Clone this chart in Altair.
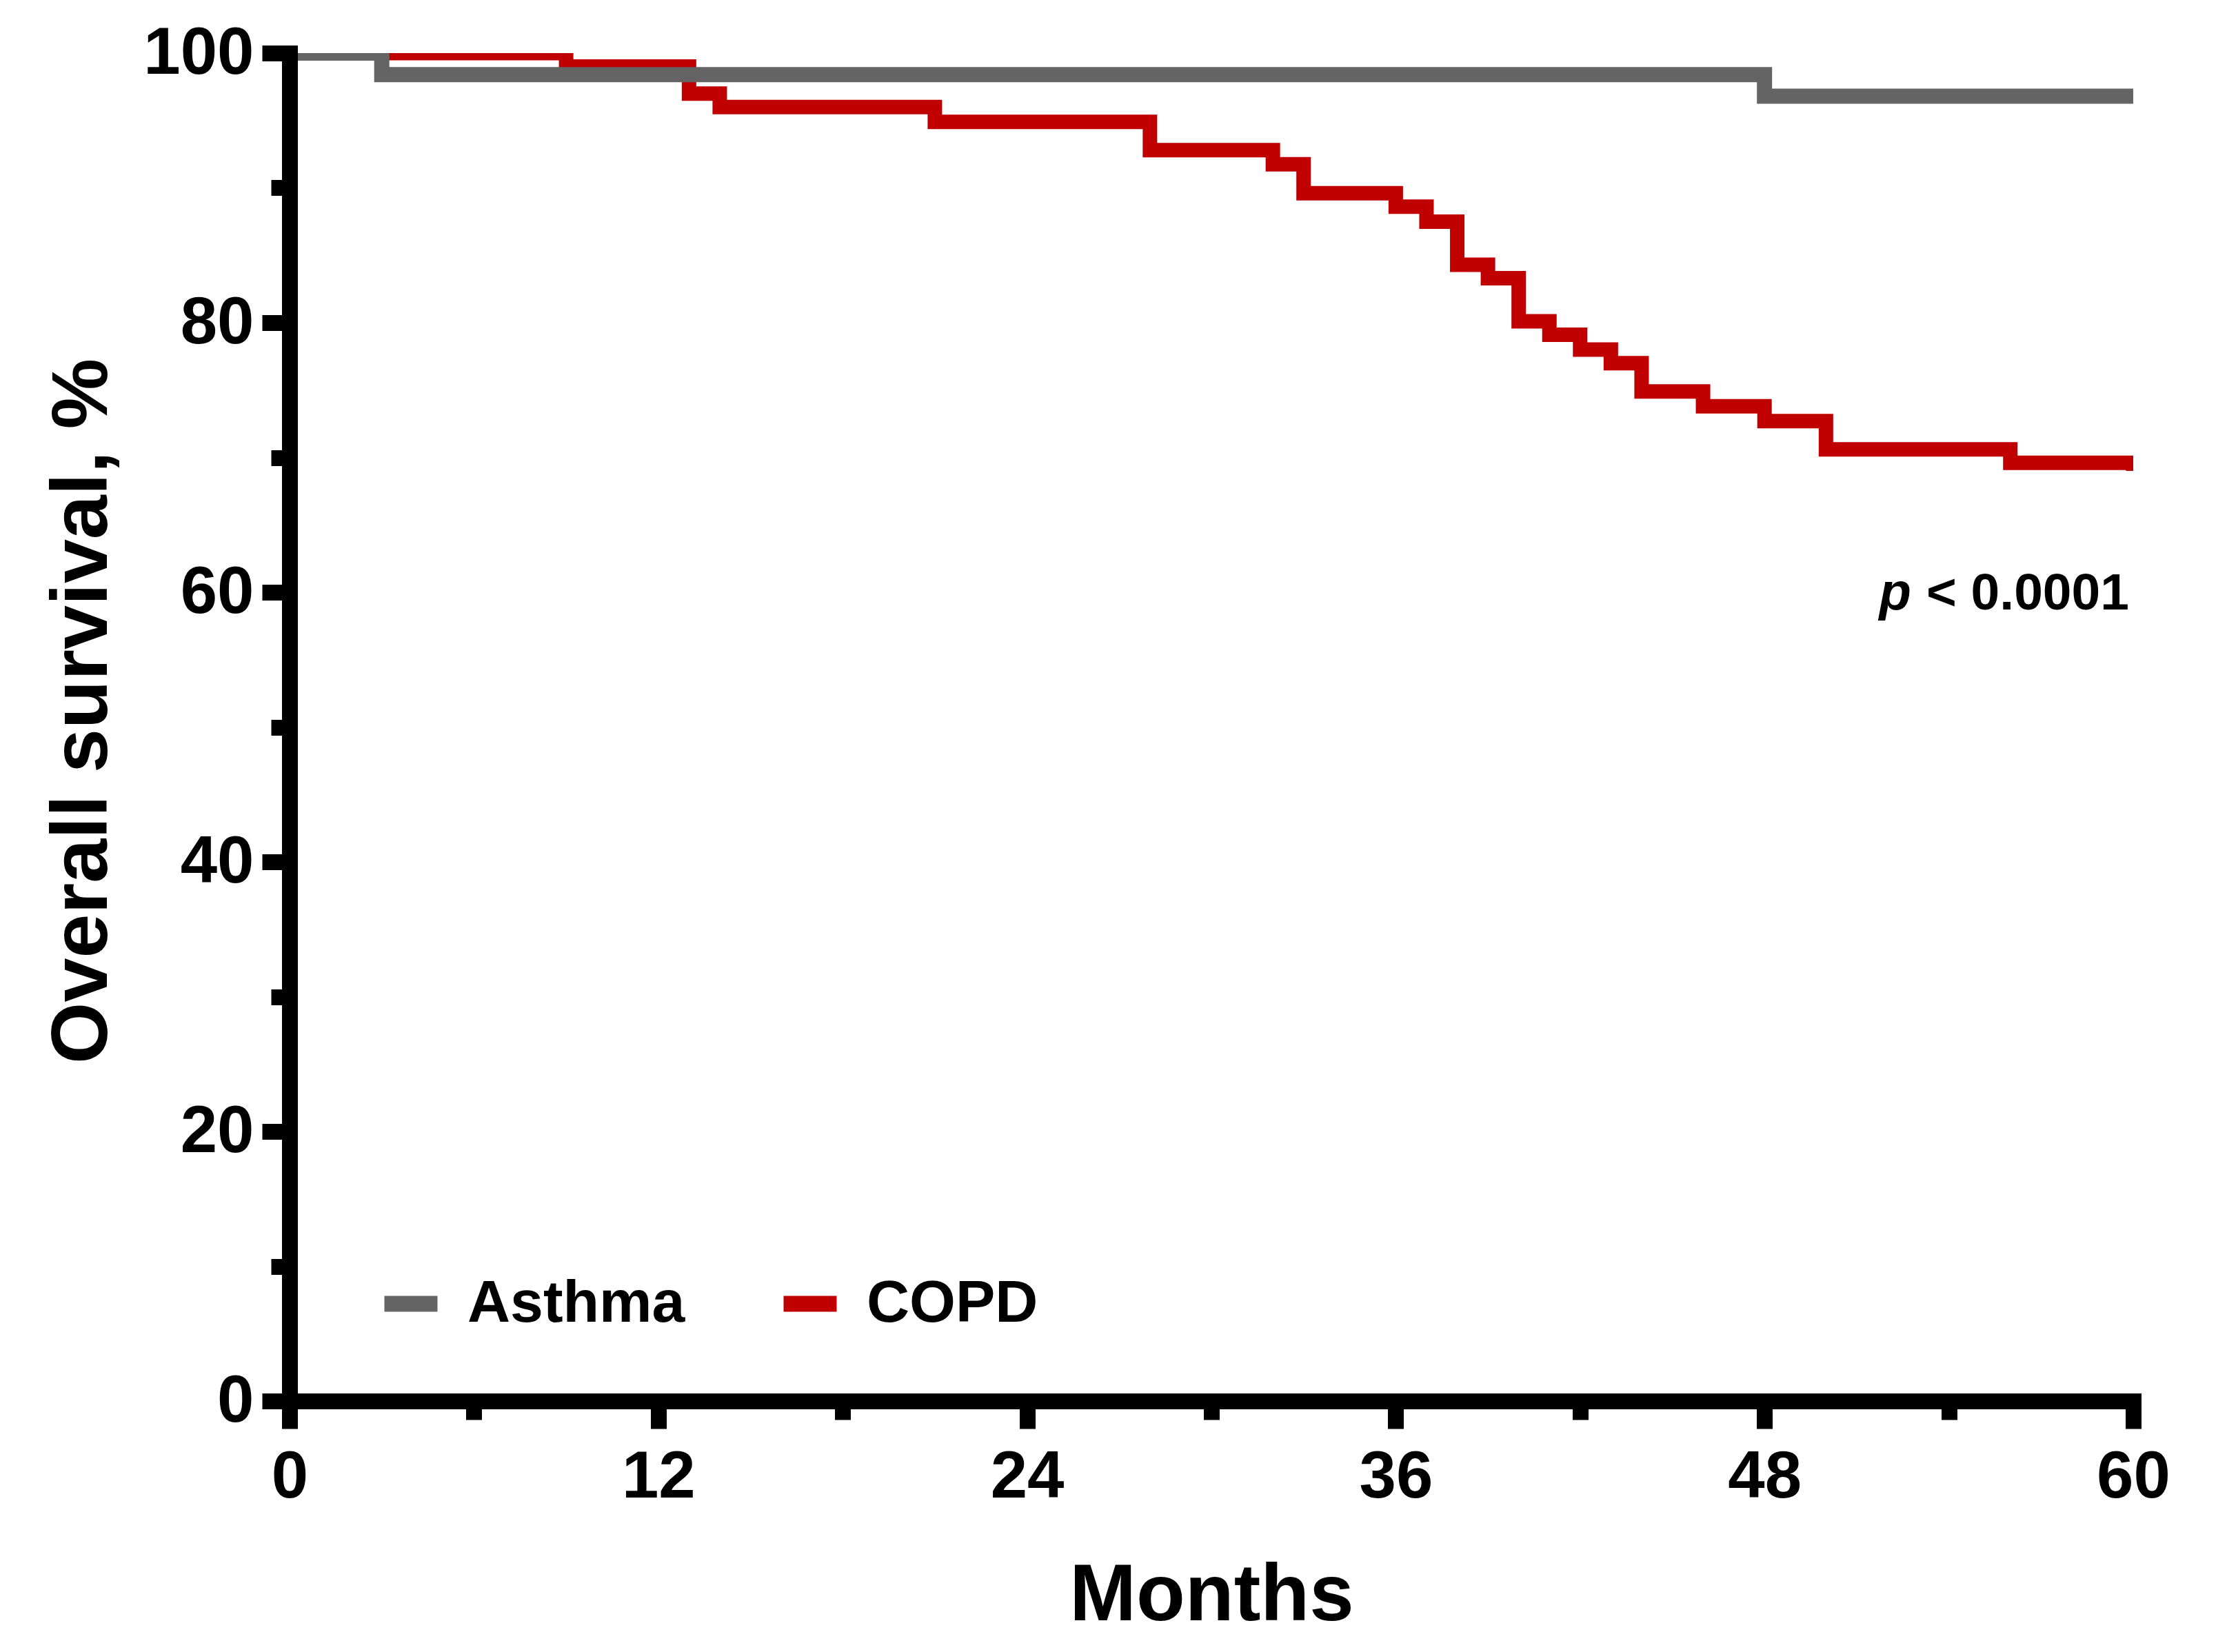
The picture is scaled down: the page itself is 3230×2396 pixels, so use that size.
import altair as alt
import pandas as pd

# ---- data ----
groups = ["Asthma", "COPD"]
group_colors = ["#646464", "#C00000"]

asthma_months = [0, 3, 48, 60]
asthma_surv = [100, 98.4, 96.8, 96.8]

copd_months = [0, 9, 13, 14, 21, 28, 32, 33, 36, 37, 38, 39, 40, 41, 42, 43, 44, 46, 48, 50, 56, 60]
copd_surv = [100, 99.0, 97.0, 96.0, 94.9, 92.8, 91.75, 89.6, 88.6, 87.5, 84.3, 83.3, 80.1, 79.1,
             78.0, 77.0, 74.9, 73.8, 72.7, 70.6, 69.6, 69.0]

x_ticks = [0, 6, 12, 18, 24, 30, 36, 42, 48, 54, 60]
y_ticks = [0, 10, 20, 30, 40, 50, 60, 70, 80, 90, 100]

p_label_x = [60]
p_label_y = [58.7]

FONT = "Liberation Sans"

asthma = pd.DataFrame({"month": asthma_months, "surv": asthma_surv, "group": "Asthma"})
copd = pd.DataFrame({"month": copd_months, "surv": copd_surv, "group": "COPD"})
ann = pd.DataFrame({"x": p_label_x, "y": p_label_y})

W, H = 2674, 1955

x_enc = alt.X(
    "month:Q",
    scale=alt.Scale(domain=[0, 60], nice=False, zero=False),
    axis=alt.Axis(
        values=x_ticks,
        labelExpr="datum.value % 12 === 0 ? datum.label : ''",
        tickSize={"condition": {"test": "datum.value % 12 === 0", "value": 40}, "value": 27},
        tickWidth=23, domainWidth=23, domainCap="square", tickColor="black", domainColor="black",
        labelFont=FONT, labelFontSize=96, labelFontWeight="bold", labelColor="black",
        labelPadding=23, labelOverlap=False, labelFlush=False,
        title="Months", titleFont=FONT, titleFontSize=116, titleFontWeight="bold", titleColor="black",
        titleBaseline="alphabetic", titleY=317, grid=False, zindex=1,
    ),
)
y_enc = alt.Y(
    "surv:Q",
    scale=alt.Scale(domain=[0, 100], nice=False),
    axis=alt.Axis(
        values=y_ticks,
        labelExpr="datum.value % 20 === 0 ? datum.label : ''",
        tickSize={"condition": {"test": "datum.value % 20 === 0", "value": 40}, "value": 27},
        tickWidth=23, domainWidth=23, domainCap="square", tickColor="black", domainColor="black",
        labelFont=FONT, labelFontSize=96, labelFontWeight="bold", labelColor="black",
        labelPadding=12, labelOverlap=False, labelFlush=False,
        title="Overall survival, %", titleFont=FONT, titleFontSize=115, titleFontWeight="bold",
        titleColor="black", titleBaseline="alphabetic", titleAngle=270, titleX=-266, titleY=954,
        grid=False, zindex=1,
    ),
)
color_enc = alt.Color(
    "group:N",
    scale=alt.Scale(domain=groups, range=group_colors),
    legend=alt.Legend(
        orient="none", legendX=126, legendY=1764, direction="horizontal", title=None,
        symbolType="stroke", symbolSize=5929, symbolStrokeWidth=23, symbolOpacity=1,
        labelFont=FONT, labelFontSize=86, labelFontWeight="bold", labelColor="black",
        labelOffset=32, columnPadding=96, padding=0, labelLimit=0,
    ),
)

copd_line = alt.Chart(copd).mark_line(interpolate="step-after", strokeWidth=21, clip=True).encode(
    x=x_enc, y=y_enc, color=color_enc
)
asthma_line = alt.Chart(asthma).mark_line(interpolate="step-after", strokeWidth=22, clip=True).encode(
    x=x_enc, y=y_enc, color=color_enc
)

p_text = alt.Chart(ann).mark_text(
    text="p", font=FONT, fontSize=76, fontWeight="bold", fontStyle="italic",
    align="right", baseline="alphabetic", dx=-322, color="black",
).encode(x="x:Q", y="y:Q")
val_text = alt.Chart(ann).mark_text(
    text="< 0.0001", font=FONT, fontSize=75, fontWeight="bold",
    align="right", baseline="alphabetic", dx=-6, color="black",
).encode(x="x:Q", y="y:Q")

chart = alt.layer(copd_line, asthma_line, p_text, val_text).properties(
    width=W, height=H,
    autosize=alt.AutoSizeParams(type="none"),
    padding={"left": 412, "top": 69, "right": 128, "bottom": 356},
    background="white",
).configure_view(stroke=None)

chart.save("out.html", embed_options={"renderer": "svg", "actions": False})
